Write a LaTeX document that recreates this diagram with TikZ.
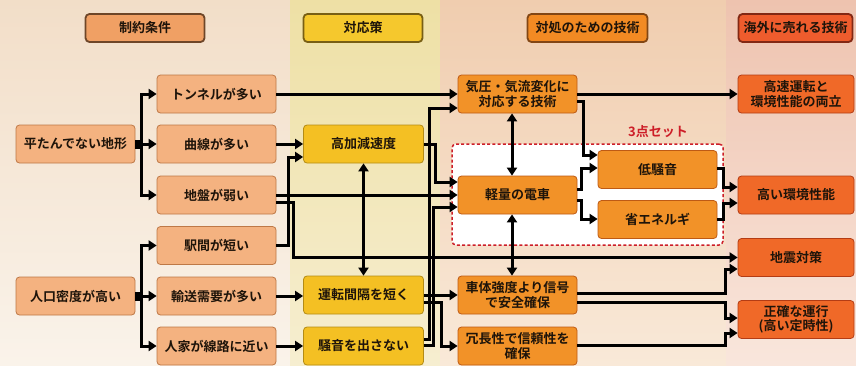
\documentclass[tikz,border=0pt]{standalone}
\usepackage{fontspec}
\setmainfont{Noto Sans CJK JP}[BoldFont={Noto Sans CJK JP Bold}]
\usetikzlibrary{arrows.meta,calc}
\definecolor{bgA}{RGB}{242,222,200}\definecolor{bgAb}{RGB}{250,243,234}
\definecolor{bgB}{RGB}{238,224,165}\definecolor{bgBb}{RGB}{246,238,208}
\definecolor{bgC}{RGB}{240,205,175}\definecolor{bgCb}{RGB}{249,233,216}
\definecolor{bgD}{RGB}{238,195,175}\definecolor{bgDb}{RGB}{249,230,220}
\definecolor{fA}{RGB}{244,178,128}\definecolor{dA}{RGB}{190,120,70}
\definecolor{fB}{RGB}{244,192,35}\definecolor{dB}{RGB}{180,140,20}
\definecolor{fC}{RGB}{242,146,40}\definecolor{dC}{RGB}{190,90,20}
\definecolor{fD}{RGB}{240,105,40}\definecolor{dD}{RGB}{180,60,20}
\definecolor{hA}{RGB}{240,160,100}\definecolor{hAd}{RGB}{110,70,40}
\definecolor{hB}{RGB}{245,200,45}\definecolor{hBd}{RGB}{120,95,20}
\definecolor{hC}{RGB}{242,138,35}\definecolor{hCd}{RGB}{130,70,20}
\definecolor{hD}{RGB}{238,92,45}\definecolor{hDd}{RGB}{130,40,20}
\definecolor{redset}{RGB}{205,30,40}
\definecolor{ink}{RGB}{30,20,10}
\begin{document}
\begin{tikzpicture}[x=1pt,y=-1pt,
  box/.style={rounded corners=3.5pt, line width=0.8pt, minimum height=38pt, align=center,
    inner sep=1pt, text=ink, font=\fontsize{13}{14.5}\selectfont\bfseries},
  boxA/.style={box, fill=fA, draw=dA, minimum width=119pt},
  boxB/.style={box, fill=fB, draw=dB, minimum width=120pt},
  boxC/.style={box, fill=fC, draw=dC, minimum width=119pt},
  boxD/.style={box, fill=fD, draw=dD, minimum width=116pt},
  hdr/.style={rounded corners=4pt, line width=1.8pt, minimum height=28pt, inner sep=1pt,
    text=ink, font=\fontsize{13}{14}\selectfont\bfseries},
  arr/.style={line width=3pt, -{Triangle[length=8pt,width=10pt]}},
  darr/.style={line width=3pt, {Triangle[length=8pt,width=10pt]}-{Triangle[length=8pt,width=10pt]}}
]
\useasboundingbox (0,0) rectangle (856,365);
% column backgrounds
\shade[top color=bgA, bottom color=bgAb] (0,0) rectangle (290,365);
\shade[top color=bgB, bottom color=bgBb] (290,0) rectangle (440,365);
\shade[top color=bgC, bottom color=bgCb] (440,0) rectangle (726,365);
\shade[top color=bgD, bottom color=bgDb] (726,0) rectangle (856,365);
% headers
\node[hdr, fill=hA, draw=hAd, minimum width=119pt] (h1) at (145,28) {制約条件};
\node[hdr, fill=hB, draw=hBd, minimum width=119pt] (h2) at (363,28) {対応策};
\node[hdr, fill=hC, draw=hCd, minimum width=120pt] (h3) at (587.5,28) {対処のための技術};
\node[hdr, fill=hD, draw=hDd, minimum width=114pt] (h4) at (795.5,28) {海外に売れる技術};
% dashed group
\node[draw=redset, fill=white, dashed, dash pattern=on 3pt off 2.2pt, line width=1.5pt,
  rounded corners=4pt, minimum width=271pt, minimum height=101pt, inner sep=0pt] (set) at (587.5,194.5) {};
\node[text=redset, font=\fontsize{13}{14}\selectfont\bfseries] (setl) at (658,132) {3点セット};
% column 1
\node[boxA] (hei) at (75.5,144) {平たんでない地形};
\node[boxA] (tun) at (216.5,94) {トンネルが多い};
\node[boxA] (kyo) at (216.5,144) {曲線が多い};
\node[boxA] (jib) at (216.5,195) {地盤が弱い};
\node[boxA] (eki) at (216.5,245.5) {駅間が短い};
\node[boxA] (jin) at (75.5,296) {人口密度が高い};
\node[boxA] (yus) at (216.5,296) {輸送需要が多い};
\node[boxA] (jik) at (216.5,346) {人家が線路に近い};
% column 2
\node[boxB] (kak) at (363.5,144) {高加減速度};
\node[boxB] (unt) at (363.5,295) {運転間隔を短く};
\node[boxB] (sou) at (363.5,346) {騒音を出さない};
% column 3
\node[boxC] (kia) at (517.5,94) {気圧・気流変化に\\対応する技術};
\node[boxC] (kei) at (517.5,195) {軽量の電車};
\node[boxC] (tei) at (657.5,169.5) {低騒音};
\node[boxC] (sho) at (657.5,219.5) {省エネルギ};
\node[boxC] (sha) at (517.5,295) {車体強度より信号\\で安全確保};
\node[boxC] (jou) at (517.5,346) {冗長性で信頼性を\\確保};
% column 4
\node[boxD] (hig) at (796,94) {高速運転と\\環境性能の両立};
\node[boxD] (kan) at (796,195) {高い環境性能};
\node[boxD] (jis) at (796,257.5) {地震対策};
\node[boxD] (sei) at (796,319.5) {正確な運行\\(高い定時性)};
% column 1 fan-outs
\draw[arr] ([yshift=3pt]hei.east) -- ++(6,0) |- (tun.west);
\draw[arr] (hei.east) -- (kyo.west);
\draw[arr] ([yshift=-3pt]hei.east) -- ++(6,0) |- (jib.west);
\draw[arr] ([yshift=3pt]jin.east) -- ++(6,0) |- (eki.west);
\draw[arr] (jin.east) -- (yus.west);
\draw[arr] ([yshift=-3pt]jin.east) -- ++(6,0) |- (jik.west);
% column 1 -> 2/3/4
\draw[arr] (tun.east) -- (kia.west);
\draw[arr] (kyo.east) -- (kak.west);
\draw[arr] (eki.east) -- ++(12,0) |- ([yshift=-13pt]kak.west);
\draw[arr] (jib.east) -- (kei.west);
\draw[arr] ([yshift=-7pt]jib.east) -- ++(17,0) |- (jis.west);
\draw[arr] (yus.east) -- (yus.east -| unt.west);
\draw[arr] (jik.east) -- (sou.west);
% column 2
\draw[darr] (kak.south) -- (unt.north);
\draw[arr] (kak.east) -- ++(12,0) |- ([yshift=13pt]kei.west);
\draw[arr] ([yshift=7pt]sou.east) -- ++(6,0) |- ([yshift=-14pt]kia.west);
\draw[arr] ([yshift=1pt]sou.east) -- ++(10,0) |- ([yshift=-12pt]kei.west);
\draw[arr] (unt.east) -- (sha.west);
\draw[arr] ([yshift=-7pt]unt.east) -- ++(18,0) |- (jou.west);
% column 3
\draw[darr] ([xshift=-5.5pt]kia.south) -- ([xshift=-5.5pt]kei.north);
\draw[darr] ([xshift=-5.5pt]kei.south) -- ([xshift=-5.5pt]sha.north);
\draw[arr] (kia.east) -- (hig.west);
\draw[arr] ([yshift=-7pt]kia.east) -- ++(6,0) |- ([yshift=14.5pt]tei.west);
\draw[arr] ([yshift=6pt]kei.east) -- ++(4,0) |- ([yshift=1.5pt]tei.west);
\draw[arr] ([yshift=-5pt]kei.east) -- ++(4,0) |- ([yshift=0.5pt]sho.west);
\draw[arr] ([yshift=1.5pt]tei.east) -- ++(6,0) |- ([yshift=8pt]kan.west);
\draw[arr] (sho.east) -- ++(6,0) |- ([yshift=-8pt]kan.west);
\draw[arr] ([yshift=2pt]sha.east) -- ++(148,0) |- ([yshift=-11.5pt]jis.west);
\draw[arr] ([yshift=-7pt]sha.east) -- ++(148,0) |- ([yshift=1.5pt]sei.west);
\draw[arr] ([yshift=1pt]jou.east) -- ++(148,0) |- ([yshift=-13.5pt]sei.west);
\end{tikzpicture}
\end{document}
